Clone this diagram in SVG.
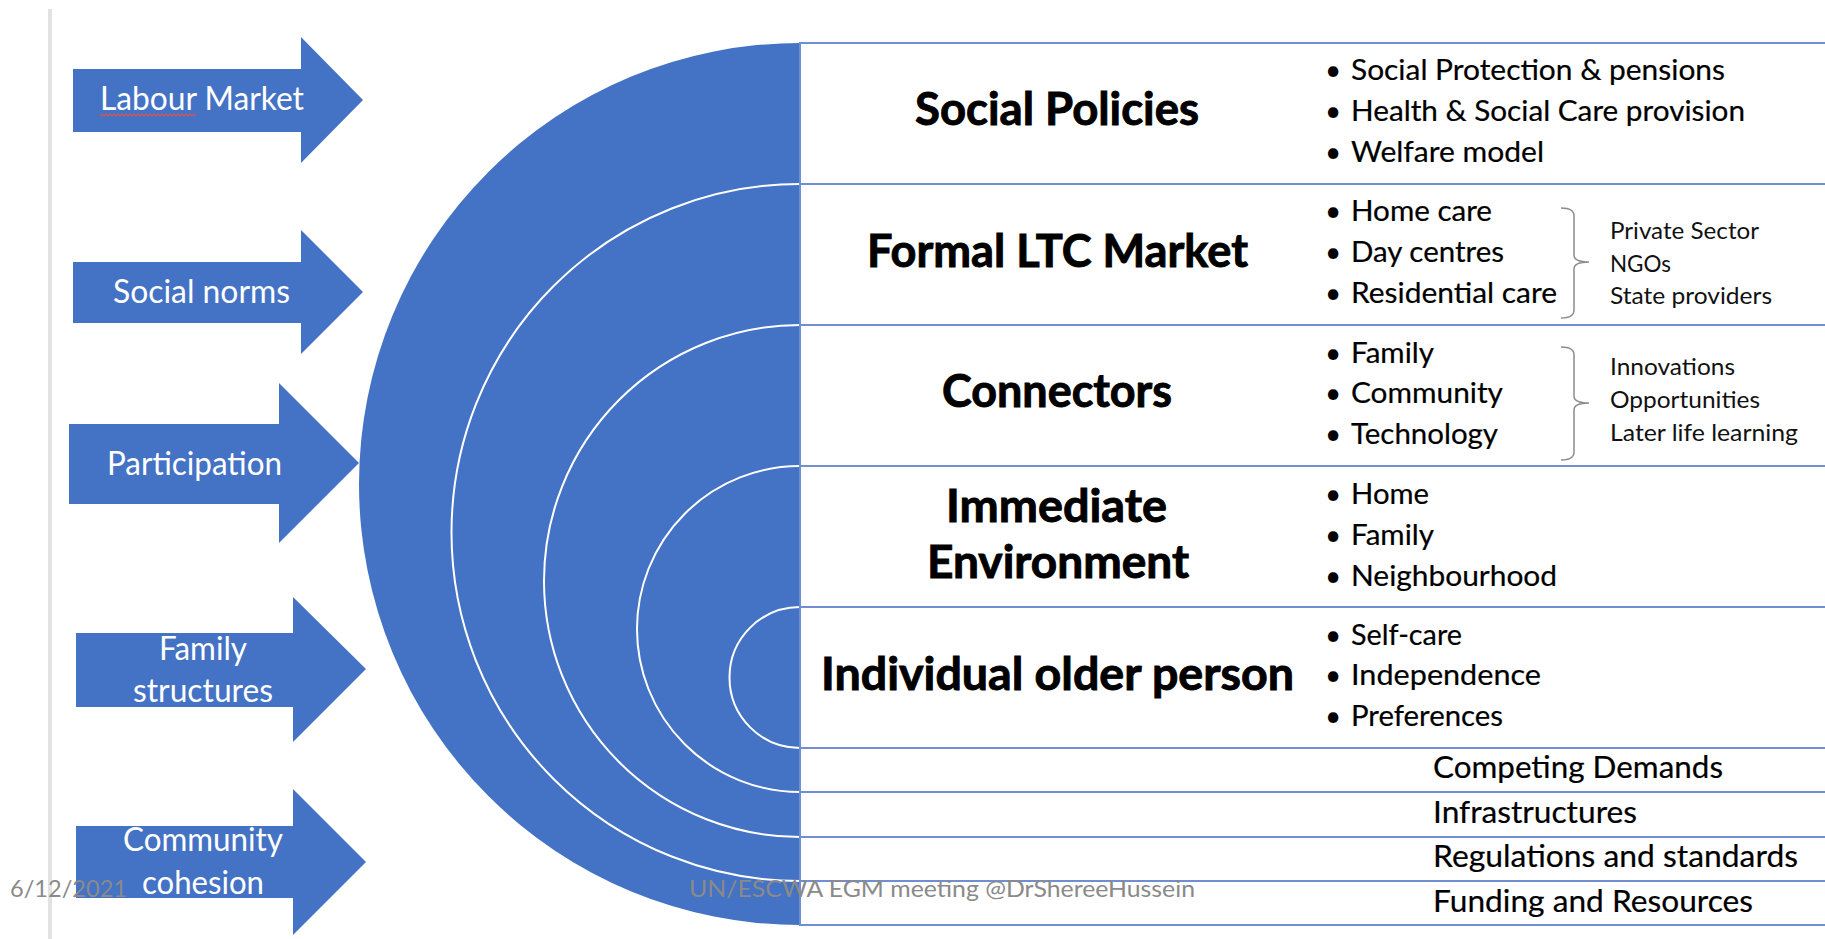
<svg xmlns="http://www.w3.org/2000/svg" width="1825" height="939" viewBox="0 0 1825 939">
  <style>
    text { font-family: Lato, "Liberation Sans", sans-serif; }
    .arrow { fill: #4472C4; }
    .alabel { font-size: 32px; fill: #ffffff; }
    .title { font-size: 45px; font-weight: 700; fill: #000000; stroke: #000000; stroke-width: 0.9; }
    .item { font-size: 28px; fill: #000000; stroke: #000000; stroke-width: 0.2; }
    .bullet { font-size: 28px; fill: #000000; text-anchor: middle; }
    .side { font-size: 24px; fill: #111111; }
    .base { font-size: 31px; fill: #000000; stroke: #000000; stroke-width: 0.2; }
    .foot { font-size: 24px; fill: #8a8a8a; }
    .row { fill: #ffffff; stroke: #6f8fd0; stroke-width: 2; }
    .arc { fill: none; stroke: #ffffff; stroke-width: 2; }
    .brace { fill: none; stroke: #8c8c8c; stroke-width: 1.5; }
  </style>

  <rect x="0" y="0" width="1825" height="939" fill="#ffffff"/>
  <line x1="50" y1="9" x2="50" y2="939" stroke="#e2e2e2" stroke-width="4"/>

  <!-- Left influence arrows -->
  <g id="arrow-labour-market">
    <polygon class="arrow" points="73,69 301,69 301,37 363,100 301,163 301,132 73,132"/>
    <text class="alabel" x="100" y="110" textLength="204" lengthAdjust="spacingAndGlyphs">Labour Market</text>
    <path d="M100,116 l2,-2 l2,2 l2,-2 l2,2 l2,-2 l2,2 l2,-2 l2,2 l2,-2 l2,2 l2,-2 l2,2 l2,-2 l2,2 l2,-2 l2,2 l2,-2 l2,2 l2,-2 l2,2 l2,-2 l2,2 l2,-2 l2,2 l2,-2 l2,2 l2,-2 l2,2 l2,-2 l2,2 l2,-2 l2,2 l2,-2 l2,2 l2,-2 l2,2 l2,-2 l2,2 l2,-2 l2,2 l2,-2 l2,2 l2,-2 l2,2 l2,-2 l2,2 l2,-2 l2,2" fill="none" stroke="#d9534f" stroke-width="1.2"/>
  </g>
  <g id="arrow-social-norms">
    <polygon class="arrow" points="73,262 301,262 301,230 363,292 301,354 301,323 73,323"/>
    <text class="alabel" x="113" y="303" textLength="177" lengthAdjust="spacingAndGlyphs">Social norms</text>
  </g>
  <g id="arrow-participation">
    <polygon class="arrow" points="69,424 279,424 279,383 359,463 279,543 279,504 69,504"/>
    <text class="alabel" x="107" y="475" textLength="175" lengthAdjust="spacingAndGlyphs">Participation</text>
  </g>
  <g id="arrow-family-structures">
    <polygon class="arrow" points="76,633 293,633 293,597 366,669 293,742 293,707 76,707"/>
    <text class="alabel" x="159" y="660" textLength="88" lengthAdjust="spacingAndGlyphs">Family</text>
    <text class="alabel" x="133" y="702" textLength="140" lengthAdjust="spacingAndGlyphs">structures</text>
  </g>
  <g id="arrow-community-cohesion">
    <polygon class="arrow" points="76,826 293,826 293,789 366,862 293,935 293,898 76,898"/>
    <text class="alabel" x="123" y="851" textLength="160" lengthAdjust="spacingAndGlyphs">Community</text>
    <text class="alabel" x="142" y="894" textLength="122" lengthAdjust="spacingAndGlyphs">cohesion</text>
  </g>

  <!-- Concentric half circles -->
  <g id="half-circles">
    <path d="M800,43 A441,441 0 0 0 800,925 Z" fill="#4472C4"/>
    <path class="arc" d="M800,184 A348.5,348.5 0 0 0 800,881"/>
    <path class="arc" d="M800,325 A256,256 0 0 0 800,837"/>
    <path class="arc" d="M800,466 A163,163 0 0 0 800,792"/>
    <path class="arc" d="M800,607 A70.5,70.5 0 0 0 800,748"/>
  </g>

  <!-- Layers -->
  <g id="layer-social-policies">
    <rect class="row" x="800" y="43" width="1040" height="141"/>
    <text class="title" x="915" y="125" textLength="284" lengthAdjust="spacingAndGlyphs">Social Policies</text>
    <text class="bullet" x="1333" y="80">•</text>
    <text class="item" x="1351" y="80" textLength="374" lengthAdjust="spacingAndGlyphs">Social Protection &amp; pensions</text>
    <text class="bullet" x="1333" y="121">•</text>
    <text class="item" x="1351" y="121" textLength="394" lengthAdjust="spacingAndGlyphs">Health &amp; Social Care provision</text>
    <text class="bullet" x="1333" y="162">•</text>
    <text class="item" x="1351" y="162" textLength="193" lengthAdjust="spacingAndGlyphs">Welfare model</text>
  </g>
  <g id="layer-formal-ltc-market">
    <rect class="row" x="800" y="184" width="1040" height="141"/>
    <text class="title" x="867" y="267" textLength="381" lengthAdjust="spacingAndGlyphs">Formal LTC Market</text>
    <text class="bullet" x="1333" y="221">•</text>
    <text class="item" x="1351" y="221" textLength="141" lengthAdjust="spacingAndGlyphs">Home care</text>
    <text class="bullet" x="1333" y="262">•</text>
    <text class="item" x="1351" y="262" textLength="153" lengthAdjust="spacingAndGlyphs">Day centres</text>
    <text class="bullet" x="1333" y="303">•</text>
    <text class="item" x="1351" y="303" textLength="206" lengthAdjust="spacingAndGlyphs">Residential care</text>
    <text class="side" x="1610" y="239" textLength="149" lengthAdjust="spacingAndGlyphs">Private Sector</text>
    <text class="side" x="1610" y="272" textLength="61" lengthAdjust="spacingAndGlyphs">NGOs</text>
    <text class="side" x="1610" y="304" textLength="162" lengthAdjust="spacingAndGlyphs">State providers</text>
  </g>
  <g id="layer-connectors">
    <rect class="row" x="800" y="325" width="1040" height="141"/>
    <text class="title" x="942" y="407" textLength="230" lengthAdjust="spacingAndGlyphs">Connectors</text>
    <text class="bullet" x="1333" y="363">•</text>
    <text class="item" x="1351" y="363" textLength="83" lengthAdjust="spacingAndGlyphs">Family</text>
    <text class="bullet" x="1333" y="403">•</text>
    <text class="item" x="1351" y="403" textLength="152" lengthAdjust="spacingAndGlyphs">Community</text>
    <text class="bullet" x="1333" y="444">•</text>
    <text class="item" x="1351" y="444" textLength="147" lengthAdjust="spacingAndGlyphs">Technology</text>
    <text class="side" x="1610" y="375" textLength="125" lengthAdjust="spacingAndGlyphs">Innovations</text>
    <text class="side" x="1610" y="408" textLength="150" lengthAdjust="spacingAndGlyphs">Opportunities</text>
    <text class="side" x="1610" y="441" textLength="188" lengthAdjust="spacingAndGlyphs">Later life learning</text>
  </g>
  <g id="layer-immediate-environment">
    <rect class="row" x="800" y="466" width="1040" height="141"/>
    <text class="title" x="946" y="522" textLength="221" lengthAdjust="spacingAndGlyphs">Immediate</text>
    <text class="title" x="927" y="578" textLength="262" lengthAdjust="spacingAndGlyphs">Environment</text>
    <text class="bullet" x="1333" y="504">•</text>
    <text class="item" x="1351" y="504" textLength="78" lengthAdjust="spacingAndGlyphs">Home</text>
    <text class="bullet" x="1333" y="545">•</text>
    <text class="item" x="1351" y="545" textLength="83" lengthAdjust="spacingAndGlyphs">Family</text>
    <text class="bullet" x="1333" y="586">•</text>
    <text class="item" x="1351" y="586" textLength="206" lengthAdjust="spacingAndGlyphs">Neighbourhood</text>
  </g>
  <g id="layer-individual-older-person">
    <rect class="row" x="800" y="607" width="1040" height="141"/>
    <text class="title" x="821" y="690" textLength="473" lengthAdjust="spacingAndGlyphs">Individual older person</text>
    <text class="bullet" x="1333" y="645">•</text>
    <text class="item" x="1351" y="645" textLength="111" lengthAdjust="spacingAndGlyphs">Self-care</text>
    <text class="bullet" x="1333" y="685">•</text>
    <text class="item" x="1351" y="685" textLength="190" lengthAdjust="spacingAndGlyphs">Independence</text>
    <text class="bullet" x="1333" y="726">•</text>
    <text class="item" x="1351" y="726" textLength="152" lengthAdjust="spacingAndGlyphs">Preferences</text>
  </g>
  <g id="layer-competing-demands">
    <rect class="row" x="800" y="748" width="1040" height="44"/>
    <text class="base" x="1433" y="778" textLength="290" lengthAdjust="spacingAndGlyphs">Competing Demands</text>
  </g>
  <g id="layer-infrastructures">
    <rect class="row" x="800" y="792" width="1040" height="45"/>
    <text class="base" x="1433" y="823" textLength="204" lengthAdjust="spacingAndGlyphs">Infrastructures</text>
  </g>
  <g id="layer-regulations">
    <rect class="row" x="800" y="837" width="1040" height="44"/>
    <text class="base" x="1433" y="867" textLength="365" lengthAdjust="spacingAndGlyphs">Regulations and standards</text>
  </g>
  <g id="layer-funding">
    <rect class="row" x="800" y="881" width="1040" height="44"/>
    <text class="base" x="1433" y="912" textLength="320" lengthAdjust="spacingAndGlyphs">Funding and Resources</text>
  </g>

  <!-- Connectors (grouping braces) -->
  <g id="connectors">
    <path class="brace" d="M1561,208 Q1574,208 1574,216 L1574,255 Q1574,262 1589,262 Q1574,262 1574,269 L1574,310 Q1574,318 1561,318"/>
    <path class="brace" d="M1561,347 Q1574,347 1574,355 L1574,396 Q1574,403 1589,403 Q1574,403 1574,410 L1574,452 Q1574,460 1561,460"/>
  </g>

  <!-- Footer -->
  <g id="footer">
    <text class="foot" x="10" y="897" textLength="117" lengthAdjust="spacingAndGlyphs">6/12/2021</text>
    <text class="foot" x="689" y="897" textLength="506" lengthAdjust="spacingAndGlyphs">UN/ESCWA EGM meeting @DrShereeHussein</text>
  </g>
</svg>
